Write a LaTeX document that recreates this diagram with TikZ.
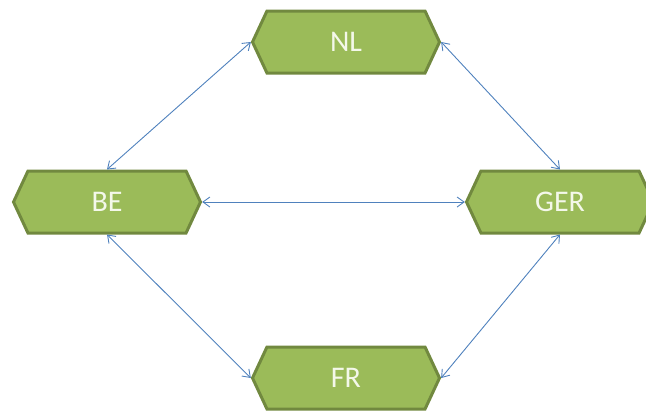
\documentclass[tikz,border=0pt]{standalone}
\usepackage{fontspec}
\setmainfont{Carlito}
\usetikzlibrary{shapes.symbols,arrows.meta}
\definecolor{boxgreen}{HTML}{9BBB59}
\definecolor{boxedge}{HTML}{71893F}
\definecolor{linkblue}{HTML}{4F81BD}
\definecolor{labelwhite}{HTML}{F4F8EA}

\begin{document}
\begin{tikzpicture}[x=1pt,y=-1pt,
	country/.style={signal, signal to=west and east, signal pointer angle=130, fill=boxgreen, draw=boxedge, line width=3pt, text=labelwhite, minimum width=187pt, minimum height=62pt, inner sep=0pt, font=\fontsize{30}{32}\selectfont},
	link/.style={draw=linkblue, line width=0.9pt, {Straight Barb[length=7pt,width=10pt]}-{Straight Barb[length=7pt,width=10pt]}}]
	
	\useasboundingbox (0,0) rectangle (646,413);
	\clip (0,0) rectangle (646,413);
	
	\node[country] (NL) at (346,42) {NL};
	\node[country] (BE) at (107,202) {BE};
	\node[country] (GER) at (560,202) {GER};
	\node[country] (FR) at (346,378) {FR};
	
	\draw[link] (BE.north) -- (NL.west);
	\draw[link] (NL.east) -- (GER.north);
	\draw[link] (BE.east) -- (GER.west);
	\draw[link] (BE.south) -- (FR.west);
	\draw[link] (GER.south) -- (FR.east);
	\end{tikzpicture}
\end{document}
